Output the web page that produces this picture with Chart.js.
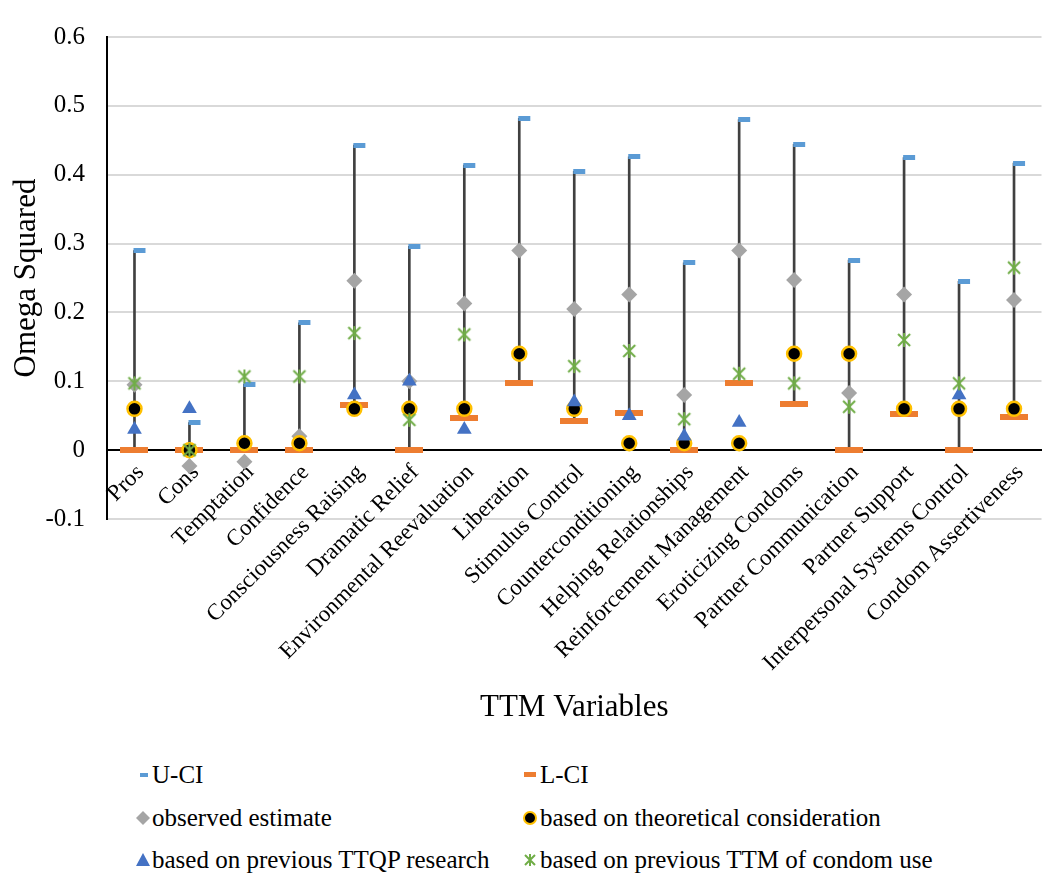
<!DOCTYPE html>
<html>
<head>
<meta charset="utf-8">
<script src="https://cdn.jsdelivr.net/npm/chart.js@4.4.1/dist/chart.umd.min.js"></script>
<style>
  html, body { margin: 0; padding: 0; background: #fff; font-family: 'Liberation Serif', serif; }
  #wrap { position: relative; width: 1051px; height: 876px; overflow: hidden; }
  #grafica { position: absolute; left: 0; top: 0; }
  .ley { position: absolute; height: 30px; line-height: 30px; font-family: 'Liberation Serif', serif; font-size: 25px; color: #000; white-space: nowrap; }
  .ley svg { position: absolute; top: 0; }
</style>
</head>
<body>
<div id="wrap">
  <canvas id="grafica" width="1051" height="740"></canvas>
  <div id="leyenda"></div>
</div>
<script>
const categories = ['Pros', 'Cons', 'Temptation', 'Confidence', 'Consciousness Raising', 'Dramatic Relief',
  'Environmental Reevaluation', 'Liberation', 'Stimulus Control', 'Counterconditioning', 'Helping Relationships',
  'Reinforcement Management', 'Eroticizing Condoms', 'Partner Communication', 'Partner Support',
  'Interpersonal Systems Control', 'Condom Assertiveness'];

const upperCI = [0.29, 0.04, 0.096, 0.185, 0.443, 0.296, 0.414, 0.482, 0.405, 0.426, 0.272, 0.48, 0.444, 0.276, 0.425, 0.245, 0.417];
const lowerCI = [0, 0, 0, 0, 0.066, 0, 0.046, 0.098, 0.042, 0.054, 0, 0.098, 0.067, 0, 0.053, 0, 0.048];
const observed = [0.095, -0.023, -0.017, 0.02, 0.246, 0.1, 0.213, 0.29, 0.205, 0.226, 0.08, 0.29, 0.247, 0.083, 0.226, null, 0.218];
const theoretical = [0.06, 0, 0.01, 0.01, 0.06, 0.06, 0.06, 0.14, 0.06, 0.01, 0.01, 0.01, 0.14, 0.14, 0.06, 0.06, 0.06];
const ttqp = [0.03, 0.06, null, null, 0.08, 0.1, 0.03, null, 0.07, 0.05, 0.02, 0.04, null, null, null, 0.08, null];
const ttmCondom = [0.097, 0, 0.107, 0.107, 0.17, 0.044, 0.168, null, 0.122, 0.144, 0.045, 0.111, 0.097, 0.063, 0.16, 0.097, 0.265];

const seriesNames = ['U-CI', 'L-CI', 'observed estimate', 'based on theoretical consideration',
  'based on previous TTQP research', 'based on previous TTM of condom use'];

const fuente = "'Liberation Serif', serif";

// marcadores propios (estilo Excel)
function lienzo(w, h, dibujar) {
  const c = document.createElement('canvas');
  c.width = w; c.height = h;
  dibujar(c.getContext('2d'));
  return c;
}
const marcaU = lienzo(24, 5, ctx => { ctx.fillStyle = '#5B9BD5'; ctx.fillRect(11, 0, 12, 5); });
const marcaL = lienzo(28, 6, ctx => { ctx.fillStyle = '#ED7D31'; ctx.fillRect(0, 0, 28, 6); });
const marcaX = lienzo(16, 16, ctx => {
  ctx.strokeStyle = '#70AD47'; ctx.lineWidth = 2;
  ctx.beginPath();
  ctx.moveTo(2, 2); ctx.lineTo(14, 14);
  ctx.moveTo(14, 2); ctx.lineTo(2, 14);
  ctx.moveTo(8, 1); ctx.lineTo(8, 15);
  ctx.stroke();
});

function serie(label, data, extra, order) {
  return Object.assign({ type: 'line', label, data, showLine: false, order, pointHoverRadius: 0 }, extra);
}

function dibujar() {
  const ctx = document.getElementById('grafica').getContext('2d');
  new Chart(ctx, {
    type: 'line',
    data: {
      labels: categories,
      datasets: [
        {
          type: 'bar', label: 'rango', data: lowerCI.map((l, i) => [l, upperCI[i]]),
          backgroundColor: '#404040', borderWidth: 0, barThickness: 2, order: 10
        },
        serie(seriesNames[0], upperCI, { pointStyle: marcaU, pointRadius: 6 }, 6),
        serie(seriesNames[1], lowerCI, { pointStyle: marcaL, pointRadius: 6 }, 5),
        serie(seriesNames[2], observed, { pointStyle: 'rectRot', pointRadius: 8, pointBackgroundColor: '#A5A5A5', pointBorderColor: '#A5A5A5', pointBorderWidth: 0 }, 4),
        serie(seriesNames[3], theoretical, { pointStyle: 'circle', pointRadius: 7, pointBackgroundColor: '#000', pointBorderColor: '#FFC000', pointBorderWidth: 2.5 }, 3),
        serie(seriesNames[4], ttqp, { pointStyle: 'triangle', pointRadius: 8.5, pointBackgroundColor: '#4472C4', pointBorderColor: '#4472C4', pointBorderWidth: 0 }, 2),
        serie(seriesNames[5], ttmCondom, { pointStyle: marcaX, pointRadius: 6 }, 1)
      ]
    },
    options: {
      responsive: false,
      animation: false,
      layout: { padding: { top: 15, bottom: 221, left: 0, right: 0 } },
      plugins: { legend: { display: false }, tooltip: { enabled: false } },
      scales: {
        x: {
          type: 'category',
          offset: true,
          position: { y: 0 },
          grid: { display: false, drawTicks: false },
          border: { display: true, color: '#000', width: 2 },
          ticks: { autoSkip: false, minRotation: 45, maxRotation: 45, padding: 9, labelOffset: 6, color: '#000', font: { family: fuente, size: 23 } },
          title: { display: true, text: 'TTM Variables', color: '#000', font: { family: fuente, size: 31 }, padding: { top: 4, bottom: 4 } },
          afterFit: s => { s.height = 280; }
        },
        y: {
          min: -0.1,
          max: 0.6,
          ticks: {
            stepSize: 0.1, padding: 22, color: '#000', font: { family: fuente, size: 25 },
            callback: v => String(Math.round(v * 10) / 10)
          },
          grid: { color: '#D9D9D9', lineWidth: 2, drawTicks: false },
          border: { color: '#000', width: 2 },
          title: { display: true, text: 'Omega Squared', color: '#000', font: { family: fuente, size: 31 }, padding: { top: 8, bottom: 0 } },
          afterFit: s => { s.width = 107; }
        }
      }
    }
  });
}

// Leyenda en dos columnas
const iconos = [
  '<rect x="5" y="13" width="8" height="4" fill="#5B9BD5"/>',
  '<rect x="2" y="12" width="12" height="5" fill="#ED7D31"/>',
  '<polygon points="8,8 15,15 8,22 1,15" fill="#A5A5A5"/>',
  '<circle cx="8" cy="15" r="6" fill="#000" stroke="#FFC000" stroke-width="2"/>',
  '<polygon points="8,8 15,21 1,21" fill="#4472C4"/>',
  '<path d="M3,10 L13,20 M13,10 L3,20 M8,9 L8,21" stroke="#70AD47" stroke-width="2" fill="none"/>'
];
const leyenda = document.getElementById('leyenda');
seriesNames.forEach((nombre, i) => {
  const col = i % 2, fila = Math.floor(i / 2);
  const div = document.createElement('div');
  div.className = 'ley';
  div.style.left = (col === 0 ? 135 : 522) + 'px';
  div.style.top = (760 + fila * 42.5) + 'px';
  div.style.paddingLeft = (col === 0 ? 17 : 18) + 'px';
  div.innerHTML = '<svg width="16" height="30" style="left:0">' + iconos[i] + '</svg>';
  div.appendChild(document.createTextNode(nombre));
  leyenda.appendChild(div);
});

if (document.fonts && document.fonts.load) {
  Promise.all([
    document.fonts.load("23px 'Liberation Serif'"),
    document.fonts.load("31px 'Liberation Serif'")
  ]).then(dibujar, dibujar);
} else {
  dibujar();
}
</script>
</body>
</html>
